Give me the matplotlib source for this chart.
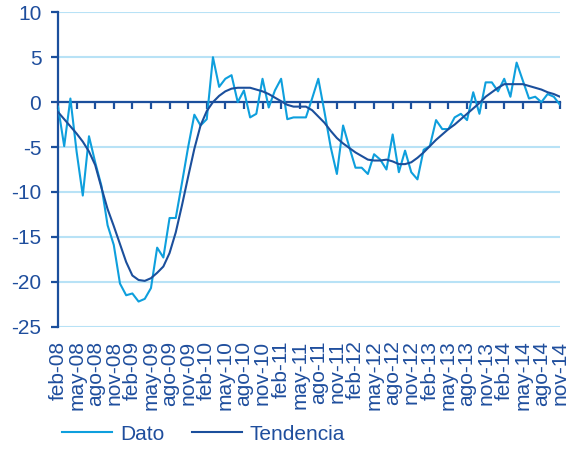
import matplotlib
matplotlib.use("Agg")
import matplotlib.pyplot as plt
import numpy as np

# monthly series, feb-08 .. nov-14
dato = [
    -0.5, -4.9, 0.4, -5.5, -10.4, -3.8, -6.7, -9.3, -13.7, -15.9,
    -20.2, -21.5, -21.3, -22.2, -21.9, -20.7, -16.2, -17.3, -12.9, -12.9,
    -9.0, -5.0, -1.4, -2.6, -1.9, 5.0, 1.7, 2.6, 3.0, 0.0,
    1.3, -1.7, -1.3, 2.6, -0.6, 1.3, 2.6, -1.9, -1.7, -1.7,
    -1.7, 0.4, 2.6, -1.1, -5.0, -8.0, -2.6, -5.0, -7.3, -7.3,
    -8.0, -5.8, -6.4, -7.5, -3.6, -7.8, -5.4, -7.8, -8.6, -5.3,
    -4.9, -2.0, -3.0, -3.0, -1.7, -1.3, -2.0, 1.1, -1.3, 2.2,
    2.2, 1.2, 2.6, 0.6, 4.4, 2.4, 0.4, 0.6, 0.0, 0.9,
    0.6, -0.3,
]
tendencia = [
    -1.1, -1.9, -2.7, -3.5, -4.4, -5.5, -7.0, -9.5, -11.9, -13.8,
    -15.8, -17.8, -19.3, -19.8, -19.9, -19.6, -19.0, -18.3, -16.8, -14.5,
    -11.5, -8.3, -5.2, -2.6, -1.0, 0.0, 0.7, 1.2, 1.5, 1.6,
    1.6, 1.6, 1.4, 1.2, 0.9, 0.5, 0.1, -0.3, -0.5, -0.5,
    -0.5, -0.9, -1.6, -2.3, -3.2, -4.0, -4.6, -5.1, -5.6, -6.0,
    -6.4, -6.5, -6.5, -6.4, -6.6, -6.9, -6.9, -6.7, -6.2, -5.6,
    -4.9, -4.2, -3.6, -3.0, -2.5, -1.9, -1.3, -0.7, -0.1, 0.6,
    1.1, 1.6, 2.0, 2.0, 2.0, 2.0, 1.8, 1.6, 1.4, 1.1,
    0.9, 0.6,
]
tick_labels = [
    "feb-08", "may-08", "ago-08", "nov-08",
    "feb-09", "may-09", "ago-09", "nov-09",
    "feb-10", "may-10", "ago-10", "nov-10",
    "feb-11", "may-11", "ago-11", "nov-11",
    "feb-12", "may-12", "ago-12", "nov-12",
    "feb-13", "may-13", "ago-13", "nov-13",
    "feb-14", "may-14", "ago-14", "nov-14",
]

c_dato = "#0E9FDD"
c_tend = "#1B4F9C"
c_text = "#1F4E9D"
c_grid = "#B8E2F6"

plt.rcParams["font.family"] = ["Liberation Sans", "DejaVu Sans"]
plt.rcParams["axes.unicode_minus"] = False

fig = plt.figure(figsize=(5.71, 4.5), dpi=100)
ax = fig.add_axes([58 / 571, 1 - 326.7 / 450, 502 / 571, 314.4 / 450])

x = np.arange(len(dato))
ax.plot(x, dato, color=c_dato, lw=1.5, label="Dato", zorder=3)
ax.plot(x, tendencia, color=c_tend, lw=1.5, label="Tendencia", zorder=4)

ax.set_xlim(0, len(dato) - 1)
ax.set_ylim(-25, 10)
ax.set_yticks(np.arange(-25, 11, 5))
ax.yaxis.grid(True, color=c_grid, lw=1.5)
ax.set_axisbelow(True)

for s in ["top", "right"]:
    ax.spines[s].set_visible(False)
ax.spines["left"].set_color(c_tend)
ax.spines["left"].set_linewidth(1.6)
ax.spines["bottom"].set_position(("data", 0))
ax.spines["bottom"].set_color(c_tend)
ax.spines["bottom"].set_linewidth(1.6)

ticks = np.arange(0, len(dato), 3)
ax.set_xticks(ticks)
ax.tick_params(axis="x", direction="out", length=5, width=1.6,
               color=c_tend, labelbottom=False)
ax.tick_params(axis="y", direction="out", length=5, width=1.6,
               color=c_tend, labelcolor=c_text, labelsize=15, pad=7)

# category labels sit at the bottom of the plot, not on the zero line
sec = ax.secondary_xaxis(0)
sec.set_xticks(ticks, labels=tick_labels)
sec.spines["bottom"].set_visible(False)
sec.tick_params(length=0, labelcolor=c_text, labelsize=15, pad=10,
                labelrotation=90)

fig.legend(loc="center left", bbox_to_anchor=(62 / 571, 1 - 434 / 450),
           ncol=2, frameon=False, fontsize=15, labelcolor=c_text,
           handlelength=2.4, handletextpad=0.4, columnspacing=1.3,
           borderpad=0, borderaxespad=0)

fig.savefig("out.png", dpi=100)
